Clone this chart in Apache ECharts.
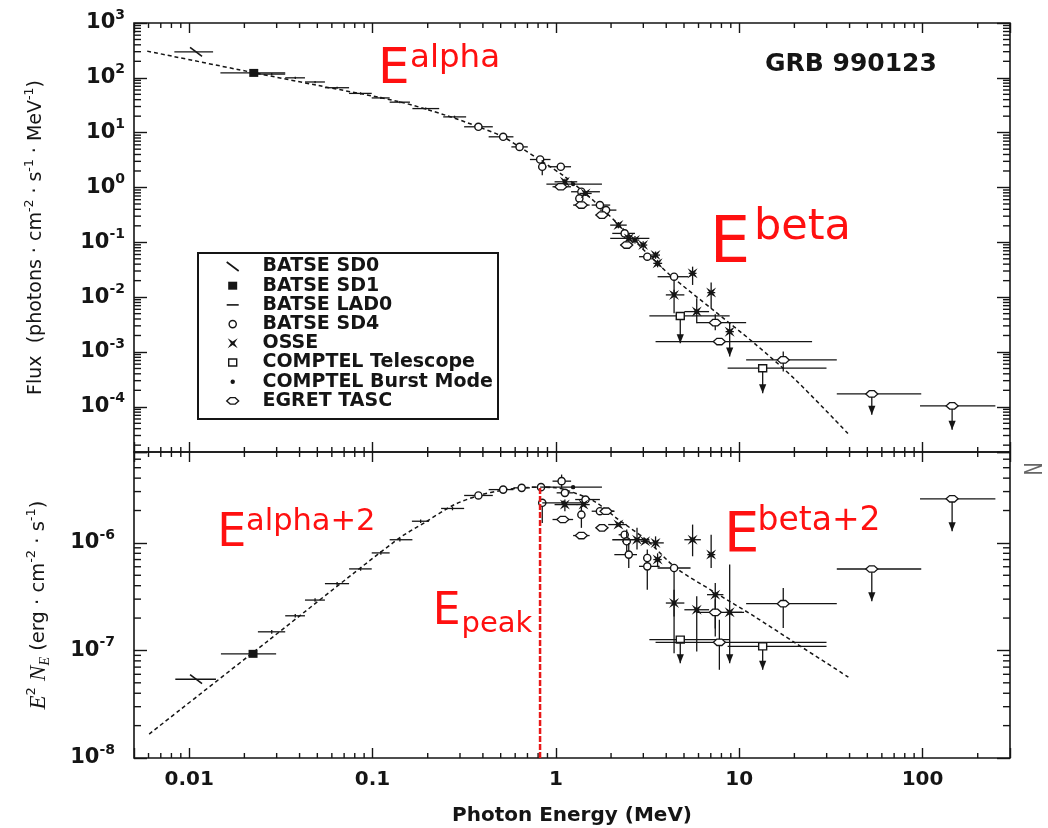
<!DOCTYPE html>
<html>
<head>
<meta charset="utf-8">
<script src="https://cdn.jsdelivr.net/npm/echarts@6/dist/echarts.min.js"></script>
<style>
  html, body { margin: 0; padding: 0; background: #fff; }
  #chart { width: 1048px; height: 828px; }
</style>
</head>
<body>
<div id="chart"></div>
<script>
// ---------------------------------------------------------------------------
// GRB 990123 broadband spectrum: photon flux (top) and E^2 N_E (bottom)
// Each point row: [E, E_low, E_high, value, value_low, value_high, upperLimit]
// ---------------------------------------------------------------------------

// axis ranges
const energyRange = [0.005, 300];          // MeV
const fluxRange = [1.5e-5, 1000];          // photons cm^-2 s^-1 MeV^-1
const nuFnuRange = [1e-8, 7e-6];           // erg cm^-2 s^-1

// tick values and labels
const energyDecades = [0.01, 0.1, 1, 10, 100];
const energyLabels = ['0.01', '0.1', '1', '10', '100'];
const energyMinor = [0.006, 0.007, 0.008, 0.009,
  0.02, 0.03, 0.04, 0.05, 0.06, 0.07, 0.08, 0.09,
  0.2, 0.3, 0.4, 0.5, 0.6, 0.7, 0.8, 0.9,
  2, 3, 4, 5, 6, 7, 8, 9,
  20, 30, 40, 50, 60, 70, 80, 90, 200];
const fluxDecades = [1e-4, 1e-3, 1e-2, 1e-1, 1, 10, 100, 1000];
const fluxExponents = ['-4', '-3', '-2', '-1', '0', '1', '2', '3'];
const fluxMinor = [2e-5, 3e-5, 4e-5, 5e-5, 6e-5, 7e-5, 8e-5, 9e-5,
  2e-4, 3e-4, 4e-4, 5e-4, 6e-4, 7e-4, 8e-4, 9e-4,
  2e-3, 3e-3, 4e-3, 5e-3, 6e-3, 7e-3, 8e-3, 9e-3,
  0.02, 0.03, 0.04, 0.05, 0.06, 0.07, 0.08, 0.09,
  0.2, 0.3, 0.4, 0.5, 0.6, 0.7, 0.8, 0.9,
  2, 3, 4, 5, 6, 7, 8, 9,
  20, 30, 40, 50, 60, 70, 80, 90,
  200, 300, 400, 500, 600, 700, 800, 900];
const nuFnuDecades = [1e-8, 1e-7, 1e-6];
const nuFnuExponents = ['-8', '-7', '-6'];
const nuFnuMinor = [2e-8, 3e-8, 4e-8, 5e-8, 6e-8, 7e-8, 8e-8, 9e-8,
  2e-7, 3e-7, 4e-7, 5e-7, 6e-7, 7e-7, 8e-7, 9e-7,
  2e-6, 3e-6, 4e-6, 5e-6, 6e-6];

// ---- photon flux panel ----
const sd0Flux = [[0.0109, 0.0083, 0.0135, 297]];
const sd1Flux = [[0.0225, 0.0148, 0.0334, 123]];
const lad0Flux = [
  [0.0282, 0.0237, 0.0334, 117, 111, 123],
  [0.0379, 0.0334, 0.0428, 100, 95, 105],
  [0.0486, 0.0428, 0.055, 84, 80, 88],
  [0.0641, 0.055, 0.0745, 66, 63, 69],
  [0.0861, 0.0745, 0.099, 52, 49.5, 54.5],
  [0.111, 0.099, 0.124, 43, 41, 45],
  [0.141, 0.124, 0.16, 36, 34.3, 37.7],
  [0.195, 0.165, 0.231, 27.5, 26.2, 28.9],
  [0.28, 0.243, 0.324, 19.4, 18.5, 20.4]
];
const sd4Flux = [
  [0.378, 0.316, 0.453, 12.8],
  [0.516, 0.43, 0.587, 8.4],
  [0.634, 0.572, 0.703, 5.5],
  [0.821, 0.722, 0.935, 3.24],
  [0.843, 0.80, 0.888, 2.39, 1.68, 3.16],
  [1.064, 0.911, 1.21, 2.39, 2.2, 2.6],
  [1.378, 1.211, 1.739, 0.836, 0.78, 0.9],
  [1.343, 1.308, 1.378, 0.632, 0.55, 0.72],
  [1.739, 1.568, 1.979, 0.478, 0.45, 0.51],
  [1.879, 1.739, 2.139, 0.387, 0.36, 0.41],
  [2.373, 2.031, 2.701, 0.1455, 0.118, 0.17],
  [3.153, 2.843, 3.498, 0.0547, 0.048, 0.062],
  [4.414, 3.589, 5.288, 0.0236, 0.0105, 0.0236]
];
const osseFlux = [
  [1.12, 0.984, 1.308, 1.27, 1.1, 1.45],
  [1.451, 1.343, 1.568, 0.779, 0.7, 0.87],
  [2.194, 1.979, 2.435, 0.206, 0.18, 0.235],
  [2.498, 1.979, 3.236, 0.118, 0.1, 0.14],
  [2.701, 2.55, 2.85, 0.11, 0.095, 0.13],
  [2.994, 2.84, 3.15, 0.0892, 0.075, 0.105],
  [3.498, 3.3, 3.7, 0.0586, 0.05, 0.068],
  [3.589, 3.4, 3.8, 0.0414, 0.035, 0.048],
  [5.57, 5.3, 5.85, 0.0272, 0.0167, 0.036],
  [4.414, 3.98, 5.022, 0.011, 0.0051, 0.0136],
  [5.867, 5.022, 6.851, 0.00545, 0.00334, 0.00953],
  [7.031, 6.7, 7.4, 0.0121, 0.0063, 0.0185],
  [8.874, 8.43, 9.35, 0.00235, 0.000825, 0.0035, 1]
];
const comptelTelFlux = [
  [4.771, 3.236, 8.874, 0.00454, 0.00144, 0.00454, 1],
  [13.43, 8.647, 29.94, 0.000506, 0.000177, 0.000506, 1]
];
const comptelBurstFlux = [[1.242, 0.888, 1.784, 1.153]];
const egretFlux = [
  [1.064, 0.959, 1.21, 1.031],
  [1.378, 1.242, 1.528, 0.478],
  [1.784, 1.65, 1.93, 0.314],
  [2.435, 2.25, 2.6, 0.0892],
  [7.404, 5.867, 10.91, 0.00343, 0.0025, 0.0049],
  [7.797, 3.498, 24.98, 0.00155],
  [17.39, 10.91, 34.07, 0.000717, 0.000439, 0.00102],
  [52.88, 34.07, 98.4, 0.000172, 0.0000714, 0.000172, 1],
  [145, 96.9, 249.7, 0.000104, 0.0000381, 0.000104, 1]
];

// ---- E^2 N_E panel ----
const sd0NuFnu = [[0.0109, 0.0084, 0.014, 5.4e-8]];
const sd1NuFnu = [[0.0223, 0.0149, 0.0298, 9.3e-8]];
const lad0NuFnu = [
  [0.0282, 0.0237, 0.0334, 1.49e-7, 1.43e-7, 1.55e-7],
  [0.0379, 0.0334, 0.0428, 2.1e-7, 2.02e-7, 2.18e-7],
  [0.0486, 0.0428, 0.055, 2.94e-7, 2.83e-7, 3.05e-7],
  [0.0641, 0.055, 0.0745, 4.18e-7, 4.02e-7, 4.34e-7],
  [0.0861, 0.0745, 0.099, 5.73e-7, 5.51e-7, 5.95e-7],
  [0.111, 0.099, 0.124, 8.07e-7, 7.76e-7, 8.38e-7],
  [0.141, 0.124, 0.165, 1.07e-6, 1.03e-6, 1.11e-6],
  [0.183, 0.164, 0.2035, 1.59e-6, 1.53e-6, 1.65e-6],
  [0.273, 0.2366, 0.316, 2.09e-6, 2.01e-6, 2.17e-6]
];
const sd4NuFnu = [
  [0.378, 0.316, 0.453, 2.76e-6],
  [0.516, 0.43, 0.587, 3.13e-6],
  [0.651, 0.587, 0.722, 3.25e-6],
  [0.83, 0.74, 0.935, 3.3e-6],
  [1.075, 0.959, 1.211, 3.75e-6, 3.25e-6, 4.32e-6],
  [0.843, 0.80, 0.888, 2.36e-6, 1.53e-6, 2.53e-6],
  [1.12, 1.01, 1.242, 2.92e-6],
  [1.451, 1.275, 1.739, 2.53e-6],
  [1.378, 1.34, 1.41, 1.83e-6, 1.38e-6, 2.19e-6],
  [1.739, 1.568, 2.084, 1.97e-6],
  [2.373, 2.2, 2.5, 1.19e-6],
  [2.435, 2.3, 2.55, 1.035e-6, 8.07e-7, 1.33e-6],
  [2.498, 2.084, 2.771, 7.78e-7, 5.84e-7, 1.0e-6],
  [3.153, 3.0, 3.3, 7.24e-7, 3.67e-7, 8.67e-7],
  [3.153, 2.843, 3.683, 6.05e-7],
  [4.414, 3.589, 5.428, 5.84e-7, 9.44e-8, 5.84e-7]
];
const osseNuFnu = [
  [1.12, 0.984, 1.308, 2.27e-6, 1.97e-6, 2.53e-6],
  [1.414, 1.3, 1.53, 2.27e-6],
  [2.194, 1.929, 2.435, 1.48e-6],
  [2.771, 2.031, 3.236, 1.07e-6, 8.67e-7, 1.38e-6],
  [3.073, 2.9, 3.25, 1.035e-6],
  [3.498, 3.236, 3.878, 1.0e-6, 8.8e-7, 1.15e-6],
  [3.589, 3.4, 3.78, 7.0e-7, 6.0e-7, 8.0e-7],
  [4.414, 3.98, 5.022, 2.76e-7, 2.07e-7, 3.67e-7],
  [5.57, 5.022, 6.178, 1.07e-6, 7.51e-7, 1.48e-6],
  [7.031, 6.7, 7.4, 7.78e-7, 5.84e-7, 1.19e-6],
  [5.867, 5.022, 6.851, 2.39e-7, 9.79e-8, 3.19e-7],
  [7.404, 6.675, 8.2, 3.3e-7, 1.35e-7, 4.24e-7],
  [8.874, 8.43, 10.36, 2.26e-7, 7.62e-8, 6.28e-7, 1]
];
const comptelTelNuFnu = [
  [4.771, 3.236, 8.874, 1.26e-7, 7.62e-8, 1.26e-7, 1],
  [13.43, 8.647, 29.94, 1.09e-7, 6.61e-8, 1.09e-7, 1]
];
const comptelBurstNuFnu = [
  [1.242, 0.821, 1.784, 3.3e-6],
  [1.1, 0.843, 1.451, 2.36e-6]
];
const egretNuFnu = [
  [1.092, 0.959, 1.242, 1.65e-6],
  [1.378, 1.242, 1.528, 1.17e-6],
  [1.879, 1.739, 2.084, 1.97e-6],
  [1.784, 1.65, 1.93, 1.38e-6],
  [7.404, 5.867, 10.63, 2.26e-7, 1.6e-7, 3.0e-7],
  [7.797, 3.498, 29.94, 1.19e-7, 6.61e-8, 1.93e-7],
  [17.39, 10.91, 34.07, 2.72e-7, 1.62e-7, 3.81e-7],
  [52.88, 34.07, 98.4, 5.72e-7, 2.86e-7, 5.72e-7, 1],
  [145, 96.9, 249.7, 2.57e-6, 1.28e-6, 2.57e-6, 1]
];

// ---- Band-function fit curves ----
const modelEnergyFlux = [0.0059, 0.0225, 0.05, 0.141, 0.25, 0.378, 0.515, 0.634, 0.82,
  1.12, 1.45, 1.78, 2.31, 3.15, 4.3, 7.2, 12.1, 20.3, 39.4];
const modelFlux = [307, 124, 73, 36.4, 20.8, 12.8, 8.4, 5.5, 3.15,
  1.57, 0.78, 0.416, 0.18, 0.063, 0.0236, 0.00585, 0.00144, 0.00031, 0.000032];
const modelEnergyNuFnu = [0.00605, 0.0266, 0.136, 0.193, 0.277, 0.378, 0.515, 0.65, 0.82,
  1.0, 1.12, 1.61, 2.19, 3.15, 4.52, 7.2, 12.1, 20.3, 39.4];
const modelNuFnu = [1.67e-8, 1.21e-7, 1.07e-6, 1.55e-6, 2.25e-6, 2.75e-6, 3.1e-6, 3.25e-6, 3.3e-6,
  3.25e-6, 3.13e-6, 2.45e-6, 1.65e-6, 1.05e-6, 5.85e-7, 3.55e-7, 2.07e-7, 1.17e-7, 5.65e-8];

// peak energy of the E^2 N_E spectrum
const epeakEnergy = 0.82;
const epeakNuFnu = 3.3e-6;

const instruments = [
  { name: 'BATSE SD0', marker: 'slash', flux: sd0Flux, nuFnu: sd0NuFnu },
  { name: 'BATSE SD1', marker: 'filledSquare', flux: sd1Flux, nuFnu: sd1NuFnu },
  { name: 'BATSE LAD0', marker: 'dash', flux: lad0Flux, nuFnu: lad0NuFnu },
  { name: 'BATSE SD4', marker: 'circle', flux: sd4Flux, nuFnu: sd4NuFnu },
  { name: 'OSSE', marker: 'star', flux: osseFlux, nuFnu: osseNuFnu },
  { name: 'COMPTEL Telescope', marker: 'openSquare', flux: comptelTelFlux, nuFnu: comptelTelNuFnu },
  { name: 'COMPTEL Burst Mode', marker: 'dot', flux: comptelBurstFlux, nuFnu: comptelBurstNuFnu },
  { name: 'EGRET TASC', marker: 'diamond', flux: egretFlux, nuFnu: egretNuFnu }
];

// ---------------------------------------------------------------------------
const INK = '#151515';
const RED = '#ff1010';
const SANS = 'DejaVu Sans';

// point markers, drawn around (x, y) in pixels
function markerShapes(kind, x, y, inLegend) {
  switch (kind) {
    case 'slash':
      return [{ type: 'line', shape: { x1: x - 6, y1: y - 4.5, x2: x + 6, y2: y + 4.5 },
        style: { stroke: INK, lineWidth: 1.6 } }];
    case 'filledSquare':
      return [{ type: 'rect', shape: { x: x - 4.5, y: y - 4, width: 9, height: 8 }, style: { fill: INK } }];
    case 'dash':
      return inLegend ? [{ type: 'line', shape: { x1: x - 6, y1: y, x2: x + 6, y2: y },
        style: { stroke: INK, lineWidth: 1.6 } }] : [];
    case 'circle':
      return [{ type: 'circle', shape: { cx: x, cy: y, r: 3.6 },
        style: { fill: '#fff', stroke: INK, lineWidth: 1.4 } }];
    case 'star':
      return [{ type: 'polygon', shape: { points: [[x - 5, y - 5], [x, y - 1.8], [x + 5, y - 5], [x + 1.8, y],
        [x + 5, y + 5], [x, y + 1.8], [x - 5, y + 5], [x - 1.8, y]] }, style: { fill: INK } }];
    case 'openSquare':
      return [{ type: 'rect', shape: { x: x - 4, y: y - 3.5, width: 8, height: 7 },
        style: { fill: '#fff', stroke: INK, lineWidth: 1.4 } }];
    case 'dot':
      return [{ type: 'circle', shape: { cx: x, cy: y, r: 2.2 }, style: { fill: INK } }];
    case 'diamond':
      return [{ type: 'polygon', shape: { points: [[x - 6, y], [x - 2.5, y - 3.2], [x + 2.5, y - 3.2],
        [x + 6, y], [x + 2.5, y + 3.2], [x - 2.5, y + 3.2]] },
        style: { fill: '#fff', stroke: INK, lineWidth: 1.3 } }];
  }
  return [];
}

// normalise rows to seven columns
function toRows(rows) {
  return rows.map(r => [r[0], r[1], r[2], r[3],
    r.length > 4 ? r[4] : r[3], r.length > 5 ? r[5] : r[3], r.length > 6 ? r[6] : 0]);
}

// error-bar + marker renderer
function pointRenderer(kind) {
  return function (params, api) {
    const E = api.value(0), Elo = api.value(1), Ehi = api.value(2);
    const Y = api.value(3), Ylo = api.value(4), Yhi = api.value(5), ul = api.value(6);
    const c = api.coord([E, Y]);
    const kids = [];
    if (Elo !== Ehi) {
      const xl = api.coord([Elo, Y])[0], xh = api.coord([Ehi, Y])[0];
      kids.push({ type: 'line', shape: { x1: xl, y1: c[1], x2: xh, y2: c[1] }, style: { stroke: INK, lineWidth: 1.3 } });
    }
    if (Ylo !== Yhi) {
      const yl = api.coord([E, Ylo])[1], yh = api.coord([E, Yhi])[1];
      kids.push({ type: 'line', shape: { x1: c[0], y1: yl, x2: c[0], y2: yh }, style: { stroke: INK, lineWidth: 1.3 } });
      if (ul) {
        kids.push({ type: 'polygon', shape: { points: [[c[0] - 3.6, yl - 9], [c[0] + 3.6, yl - 9], [c[0], yl]] },
          style: { fill: INK } });
      }
    }
    markerShapes(kind, c[0], c[1], false).forEach(m => kids.push(m));
    return { type: 'group', children: kids };
  };
}

// minor ticks, drawn inward from both edges of a panel
function minorTickSeries(gridIndex, dim, values, ref) {
  const rows = values.map(v => dim === 'x' ? [v, ref] : [ref, v]);
  return {
    type: 'custom', xAxisIndex: gridIndex, yAxisIndex: gridIndex, z: 6, clip: false,
    encode: { x: 0, y: 1 },
    data: rows,
    renderItem: function (params, api) {
      const cs = params.coordSys;
      const p = api.coord([api.value(0), api.value(1)]);
      if (dim === 'x') {
        return { type: 'group', children: [
          { type: 'line', shape: { x1: p[0], y1: cs.y, x2: p[0], y2: cs.y + 5 }, style: { stroke: INK, lineWidth: 1.4 } },
          { type: 'line', shape: { x1: p[0], y1: cs.y + cs.height, x2: p[0], y2: cs.y + cs.height - 5 }, style: { stroke: INK, lineWidth: 1.4 } }
        ] };
      }
      return { type: 'group', children: [
        { type: 'line', shape: { x1: cs.x, y1: p[1], x2: cs.x + 7, y2: p[1] }, style: { stroke: INK, lineWidth: 1.4 } },
        { type: 'line', shape: { x1: cs.x + cs.width, y1: p[1], x2: cs.x + cs.width - 7, y2: p[1] }, style: { stroke: INK, lineWidth: 1.4 } }
      ] };
    }
  };
}

function decadeFormatter(decades, exponents) {
  return function (v) {
    const i = decades.findIndex(d => Math.abs(Math.log10(v) - Math.log10(d)) < 1e-6);
    return i < 0 ? '' : '{b|10}{s|' + exponents[i] + '}';
  };
}
function energyFormatter(v) {
  const i = energyDecades.findIndex(d => Math.abs(Math.log10(v) - Math.log10(d)) < 1e-6);
  return i < 0 ? '' : energyLabels[i];
}

const tickRich = {
  b: { fontFamily: SANS, fontWeight: 'bold', fontSize: 21, lineHeight: 30, color: INK },
  s: { fontFamily: SANS, fontWeight: 'bold', fontSize: 14, lineHeight: 14, verticalAlign: 'top', color: INK }
};

const series = [];
instruments.forEach(inst => {
  series.push({ name: inst.name, type: 'custom', xAxisIndex: 0, yAxisIndex: 0, z: 4,
    encode: { x: 0, y: 3 }, data: toRows(inst.flux), renderItem: pointRenderer(inst.marker) });
  series.push({ name: inst.name, type: 'custom', xAxisIndex: 1, yAxisIndex: 1, z: 4,
    encode: { x: 0, y: 3 }, data: toRows(inst.nuFnu), renderItem: pointRenderer(inst.marker) });
});
series.push({
  name: 'Band fit', type: 'line', xAxisIndex: 0, yAxisIndex: 0, z: 3, silent: true,
  showSymbol: false, smooth: 0.3,
  data: modelEnergyFlux.map((e, i) => [e, modelFlux[i]]),
  lineStyle: { color: INK, width: 1.5, type: [4, 3] }
});
series.push({
  name: 'Band fit E2N', type: 'line', xAxisIndex: 1, yAxisIndex: 1, z: 3, silent: true,
  showSymbol: false, smooth: 0.3,
  data: modelEnergyNuFnu.map((e, i) => [e, modelNuFnu[i]]),
  lineStyle: { color: INK, width: 1.5, type: [4, 3] }
});
series.push({
  name: 'Epeak', type: 'line', xAxisIndex: 1, yAxisIndex: 1, z: 6, silent: true,
  showSymbol: false,
  data: [[epeakEnergy, nuFnuRange[0]], [epeakEnergy, epeakNuFnu]],
  lineStyle: { color: '#e81818', width: 2.5, type: [6, 2] }
});
series.push(minorTickSeries(0, 'x', energyMinor, 1));
series.push(minorTickSeries(1, 'x', energyMinor, 1e-7));
series.push(minorTickSeries(0, 'y', fluxMinor, 1));
series.push(minorTickSeries(1, 'y', nuFnuMinor, 1));

// legend drawn as a framed block of marker + label rows
const legendRowY = [266.5, 285.7, 304.9, 324.1, 343.3, 362.5, 381.7, 400.9];
const legendElements = [{
  type: 'rect', shape: { x: 198, y: 253, width: 300, height: 166 },
  style: { fill: '#fff', stroke: INK, lineWidth: 2 }, z: 10
}];
instruments.forEach((inst, i) => {
  markerShapes(inst.marker, 232.7, legendRowY[i], true).forEach(m => legendElements.push(Object.assign(m, { z: 11 })));
  legendElements.push({
    type: 'text', z: 11,
    style: { text: inst.name, x: 262.5, y: legendRowY[i], font: 'bold 19px "DejaVu Sans"', fill: INK,
      align: 'left', verticalAlign: 'middle', textAlign: 'left', textVerticalAlign: 'middle' }
  });
});

function label(text, x, y, size, color, weight) {
  return {
    type: 'text', z: 12,
    style: { text: text, x: x, y: y, font: (weight || 'normal') + ' ' + size + 'px "DejaVu Sans"', fill: color,
      align: 'left', verticalAlign: 'middle', textAlign: 'left', textVerticalAlign: 'middle' }
  };
}

const annotations = [
  label('GRB 990123', 765, 64, 25, INK, 'bold'),
  label('E', 378, 70.2, 50, RED),
  label('alpha', 410, 58.5, 32.5, RED),
  label('E', 709.7, 245.3, 64, RED),
  label('beta', 754, 228, 43, RED),
  label('E', 217.2, 533.7, 46, RED),
  label('alpha+2', 246, 522, 30.5, RED),
  label('E', 724.1, 536.8, 56, RED),
  label('beta+2', 757.5, 521.6, 33, RED),
  label('E', 432.7, 612.7, 44, RED),
  label('peak', 461.5, 624, 29, RED),
  {
    type: 'text', z: 12, x: 1035, y: 469, rotation: Math.PI / 2, scaleX: 1.1, scaleY: 1.6,
    style: { text: 'N', x: 0, y: 0, font: '16px "DejaVu Sans"', fill: '#666',
      align: 'center', verticalAlign: 'middle', textAlign: 'center', textVerticalAlign: 'middle' }
  }
];

// axes: label-bearing axes on the left/bottom, mirror axes on top/right carry the decade ticks
const plainAxis = { axisLine: { show: false }, splitLine: { show: false } };
function majorTicks(len) {
  return { show: true, inside: true, length: len, lineStyle: { color: INK, width: 1.4 } };
}

const option = {
  animation: false,
  backgroundColor: '#fff',
  textStyle: { fontFamily: SANS },
  grid: [
    { left: 134, top: 23, right: 38, height: 429, show: true, borderColor: INK, borderWidth: 1.6, backgroundColor: 'transparent' },
    { left: 134, top: 452, right: 38, height: 306, show: true, borderColor: INK, borderWidth: 1.6, backgroundColor: 'transparent' }
  ],
  xAxis: [
    Object.assign({ type: 'log', gridIndex: 0, position: 'bottom', min: energyRange[0], max: energyRange[1],
      axisTick: majorTicks(10), axisLabel: { show: false } }, plainAxis),
    Object.assign({ type: 'log', gridIndex: 1, position: 'bottom', min: energyRange[0], max: energyRange[1],
      axisTick: majorTicks(10),
      axisLabel: { formatter: energyFormatter, margin: 12, fontFamily: SANS, fontWeight: 'bold', fontSize: 20, color: INK },
      name: 'Photon Energy (MeV)', nameLocation: 'middle', nameGap: 48,
      nameTextStyle: { fontFamily: SANS, fontWeight: 'bold', fontSize: 20, color: INK } }, plainAxis),
    Object.assign({ type: 'log', gridIndex: 0, position: 'top', min: energyRange[0], max: energyRange[1],
      axisTick: majorTicks(10), axisLabel: { show: false } }, plainAxis),
    Object.assign({ type: 'log', gridIndex: 1, position: 'top', min: energyRange[0], max: energyRange[1],
      axisTick: majorTicks(10), axisLabel: { show: false } }, plainAxis)
  ],
  yAxis: [
    Object.assign({ type: 'log', gridIndex: 0, position: 'left', min: fluxRange[0], max: fluxRange[1],
      axisTick: majorTicks(13),
      axisLabel: { formatter: decadeFormatter(fluxDecades, fluxExponents), margin: 9, rich: tickRich },
      name: '{m|Flux  (photons · cm}{s|-2}{m| · s}{s|-1}{m| · MeV}{s|-1}{m|)}',
      nameLocation: 'middle', nameRotate: 90, nameGap: 84,
      nameTextStyle: { rich: {
        m: { fontFamily: SANS, fontSize: 19, lineHeight: 27, color: INK },
        s: { fontFamily: SANS, fontSize: 12.5, lineHeight: 12, verticalAlign: 'top', color: INK }
      } } }, plainAxis),
    Object.assign({ type: 'log', gridIndex: 1, position: 'left', min: nuFnuRange[0], max: nuFnuRange[1],
      axisTick: majorTicks(13),
      axisLabel: { formatter: decadeFormatter(nuFnuDecades, nuFnuExponents), margin: 19, rich: tickRich },
      name: '{i|E}{s|2}{m| }{i|N}{u|E}{m| (erg · cm}{s|-2}{m| · s}{s|-1}{m|)}',
      nameLocation: 'middle', nameRotate: 90, nameGap: 82,
      nameTextStyle: { rich: {
        m: { fontFamily: SANS, fontSize: 19.5, lineHeight: 27, color: INK },
        i: { fontFamily: 'Liberation Serif', fontStyle: 'italic', fontSize: 23, lineHeight: 27, color: INK },
        s: { fontFamily: SANS, fontSize: 13, lineHeight: 12, verticalAlign: 'top', color: INK },
        u: { fontFamily: 'Liberation Serif', fontStyle: 'italic', fontSize: 14, lineHeight: 12, verticalAlign: 'bottom', color: INK }
      } } }, plainAxis),
    Object.assign({ type: 'log', gridIndex: 0, position: 'right', min: fluxRange[0], max: fluxRange[1],
      axisTick: majorTicks(13), axisLabel: { show: false } }, plainAxis),
    Object.assign({ type: 'log', gridIndex: 1, position: 'right', min: nuFnuRange[0], max: nuFnuRange[1],
      axisTick: majorTicks(13), axisLabel: { show: false } }, plainAxis)
  ],
  graphic: { elements: legendElements.concat(annotations) },
  series: series
};

const chart = echarts.init(document.getElementById('chart'), null, { renderer: 'canvas' });
chart.setOption(option);
</script>
</body>
</html>
